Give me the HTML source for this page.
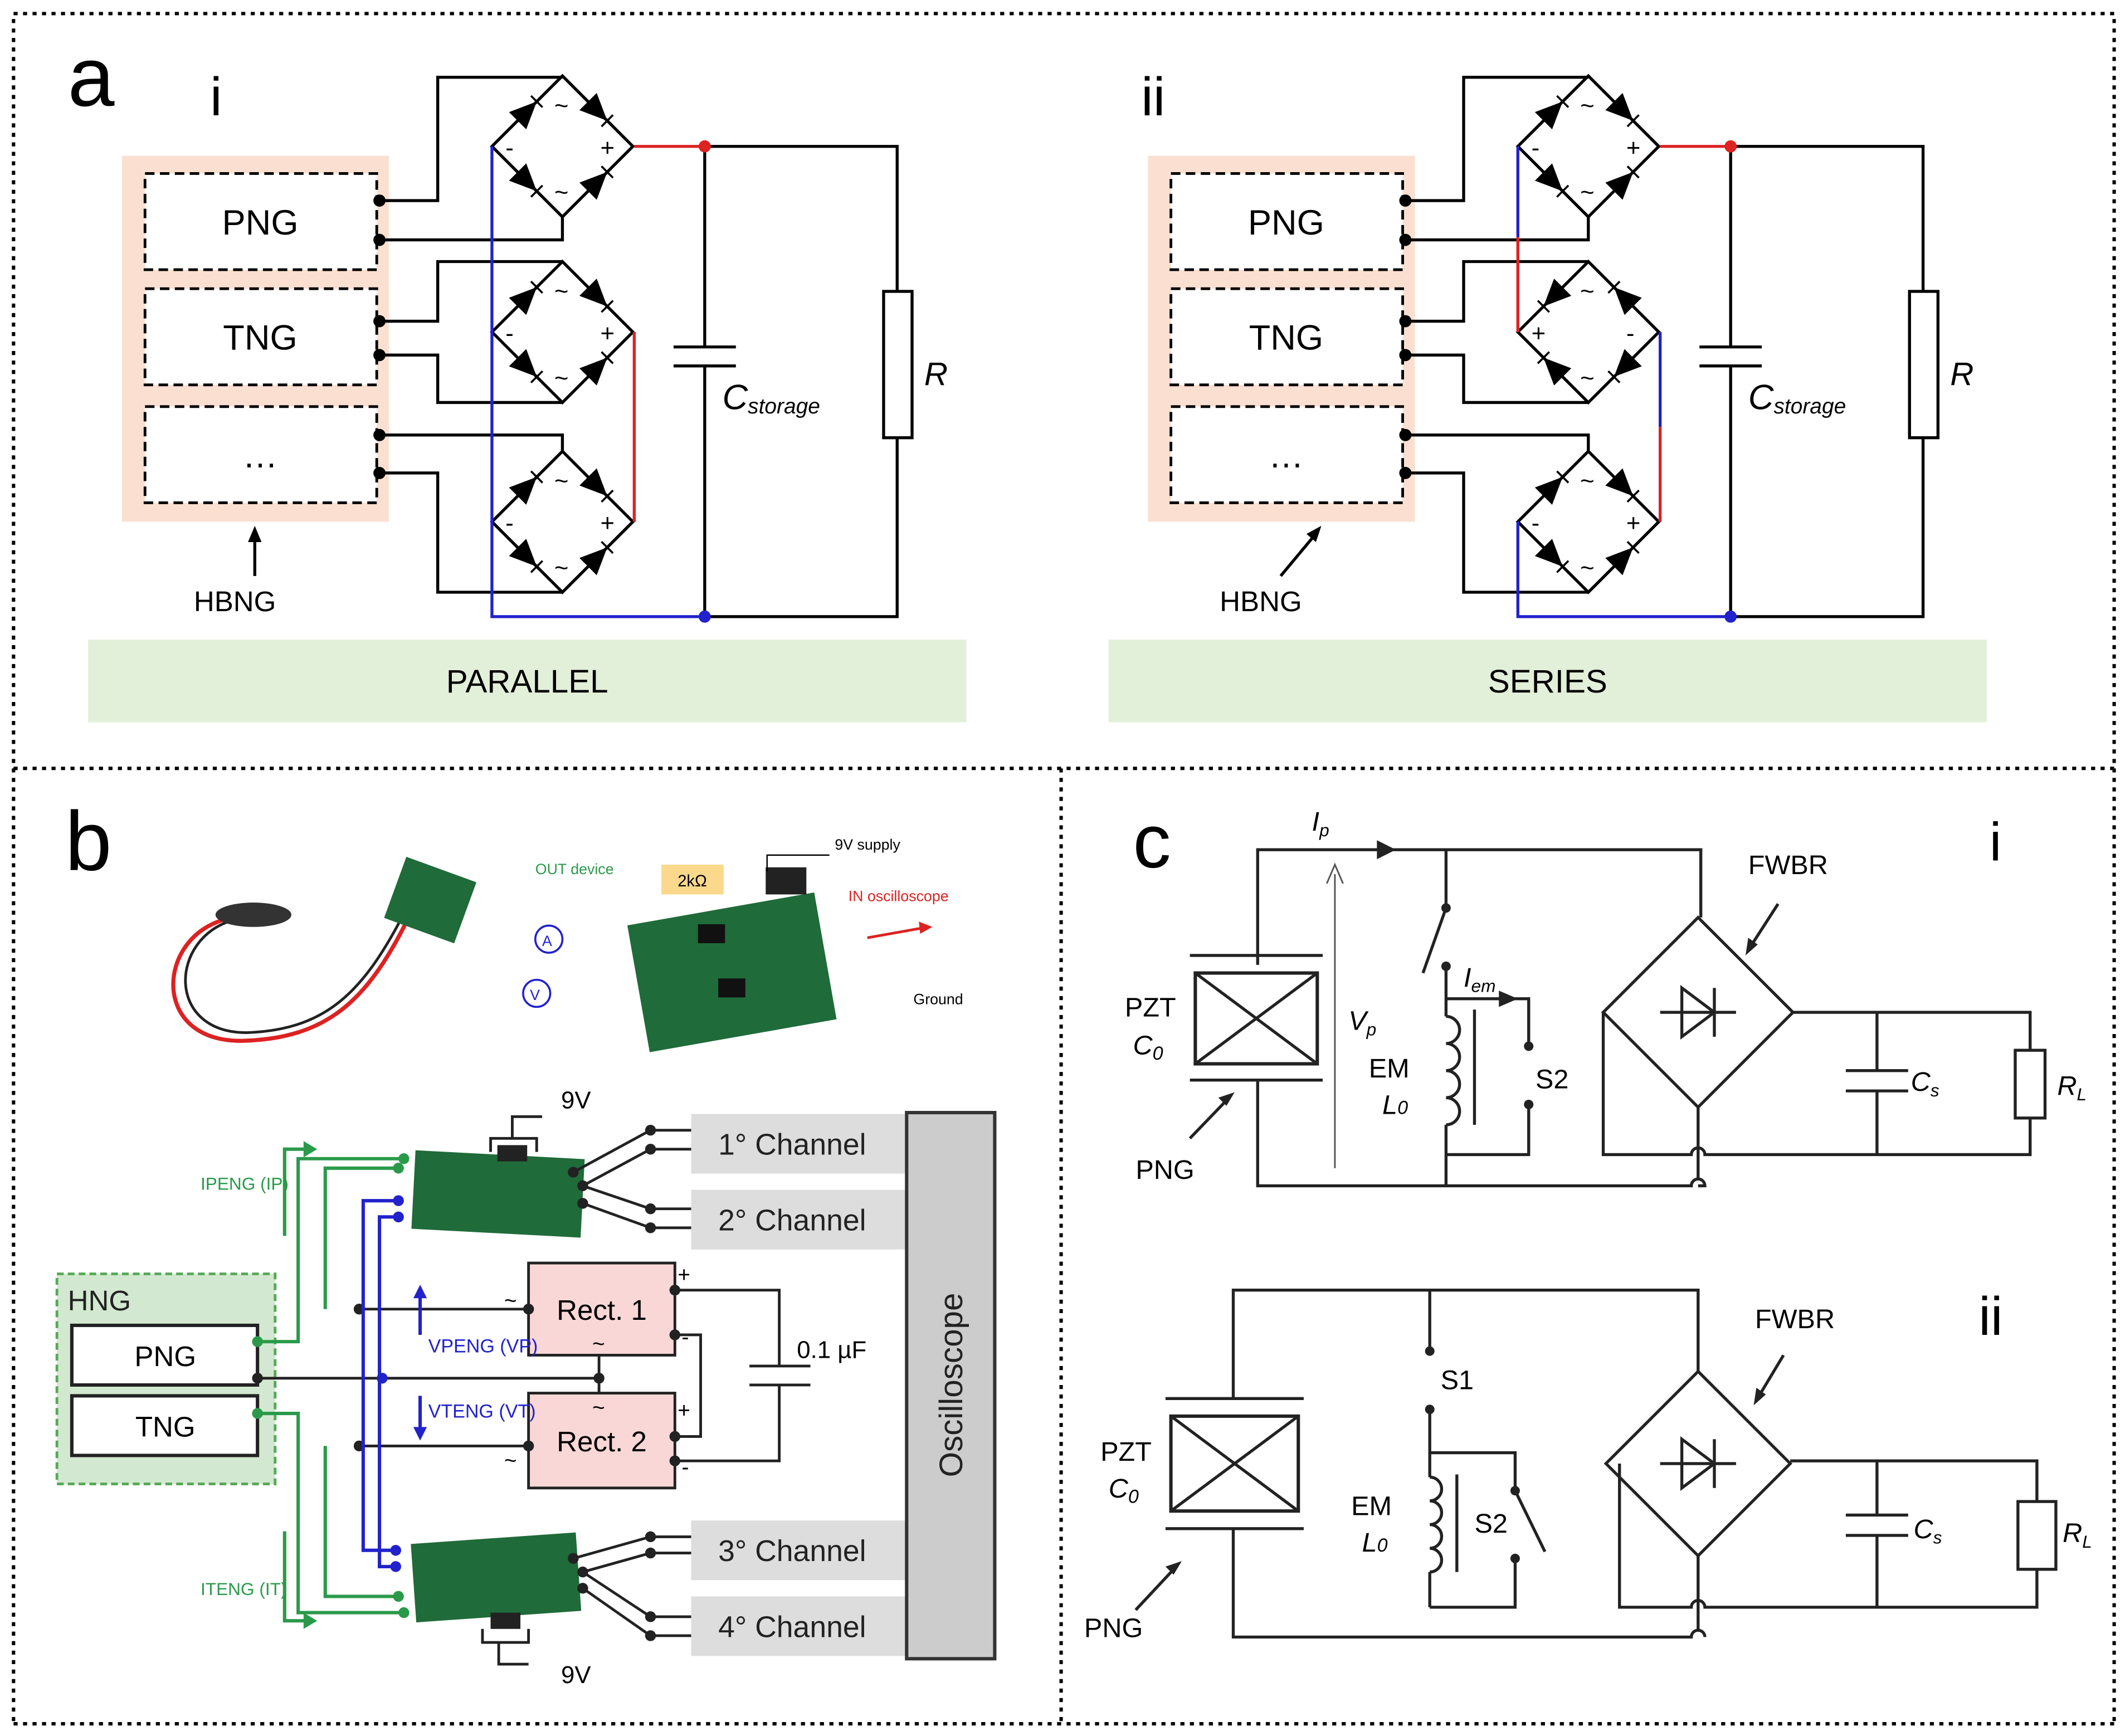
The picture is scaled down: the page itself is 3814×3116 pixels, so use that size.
<!DOCTYPE html>
<html><head><meta charset="utf-8"><style>
html,body{margin:0;padding:0;background:#fff}
svg{display:block}
text{font-family:"Liberation Sans",sans-serif}
</style></head><body>
<svg id="s" width="3814" height="3116" viewBox="0 0 1568 1281" xmlns="http://www.w3.org/2000/svg">
<g fill="none" stroke="#000" stroke-width="2.5" stroke-dasharray="3,4">
<rect x="10" y="10" width="1550" height="557"/>
<line x1="10" y1="567" x2="10" y2="1272"/><line x1="10" y1="1272" x2="1560" y2="1272"/>
<line x1="1560" y1="567" x2="1560" y2="1272"/><line x1="783" y1="567" x2="783" y2="1272"/>
</g>
<g id="a"></g>
<text x="50" y="78" font-size="62">a</text>
<text x="155" y="85" font-size="40">i</text>
<text x="842" y="85" font-size="40">ii</text>
<rect x="65" y="472" width="648" height="61" fill="#e2efd9"/>
<text x="389" y="511" font-size="24" text-anchor="middle">PARALLEL</text>
<rect x="818" y="472" width="648" height="61" fill="#e2efd9"/>
<text x="1142" y="511" font-size="24" text-anchor="middle">SERIES</text>

<text x="48" y="642" font-size="62">b</text>
<path d="M168,678 C115,690 110,770 180,768 C240,766 270,740 300,680" fill="none" stroke="#d22" stroke-width="3"/>
<path d="M172,679 C125,692 122,762 182,762 C238,760 266,735 296,678" fill="none" stroke="#222" stroke-width="2"/>
<ellipse cx="187" cy="675" rx="28" ry="9" fill="#333"/>
<rect x="290" y="640" width="55" height="48" fill="#1f6b3a" transform="rotate(20 317 664)"/>
<rect x="470" y="670" width="140" height="95" fill="#1f6b3a" transform="rotate(-10 540 717)"/>
<rect x="515" y="682" width="20" height="14" fill="#111"/><rect x="530" y="722" width="20" height="14" fill="#111"/>
<rect x="565" y="640" width="30" height="20" fill="#222"/>
<text x="395" y="645" font-size="11" fill="#2a9a4a">OUT device</text>
<rect x="488" y="638" width="46" height="22" fill="#fbd98c"/><text x="500" y="654" font-size="12">2kΩ</text>
<text x="616" y="627" font-size="11">9V supply</text>
<path d="M566,643 v-12 h46" fill="none" stroke="#000"/>
<text x="626" y="665" font-size="11" fill="#d22">IN oscilloscope</text>
<path d="M640,692 L685,684" stroke="#d22" stroke-width="2"/><path d="M688,684 l-10,-4 l1,9z" fill="#d22"/>
<text x="674" y="741" font-size="11">Ground</text>
<circle cx="405" cy="693" r="10" fill="none" stroke="#22c" stroke-width="1.5"/><text x="400" y="698" font-size="11" fill="#22c">A</text>
<circle cx="396" cy="733" r="10" fill="none" stroke="#22c" stroke-width="1.5"/><text x="391" y="738" font-size="11" fill="#22c">V</text>

<g fill="#ddd"><rect x="510" y="822" width="158" height="44"/><rect x="510" y="878" width="158" height="44"/><rect x="510" y="1122" width="158" height="44"/><rect x="510" y="1178" width="158" height="44"/></g>
<g font-size="22" fill="#222"><text x="530" y="852">1° Channel</text><text x="530" y="908">2° Channel</text><text x="530" y="1152">3° Channel</text><text x="530" y="1208">4° Channel</text></g>
<rect x="669" y="821" width="65" height="403" fill="#ccc" stroke="#333" stroke-width="2.5"/>
<text transform="translate(710,1022) rotate(-90)" font-size="24" text-anchor="middle" fill="#222">Oscilloscope</text>
<rect x="42" y="940" width="161" height="155" fill="#d3e8d0" stroke="#5a5" stroke-width="2" stroke-dasharray="5,3"/>
<text x="50" y="967" font-size="21" fill="#222">HNG</text>
<rect x="53" y="978" width="137" height="44" fill="#fff" stroke="#222" stroke-width="2.5"/><text x="122" y="1008" font-size="21" text-anchor="middle">PNG</text>
<rect x="53" y="1030" width="137" height="44" fill="#fff" stroke="#222" stroke-width="2.5"/><text x="122" y="1060" font-size="21" text-anchor="middle">TNG</text>
<rect x="390" y="932" width="108" height="68" fill="#f8d7d6" stroke="#222" stroke-width="2"/><text x="444" y="974" font-size="21" text-anchor="middle">Rect. 1</text>
<rect x="390" y="1028" width="108" height="70" fill="#f8d7d6" stroke="#222" stroke-width="2"/><text x="444" y="1071" font-size="21" text-anchor="middle">Rect. 2</text>
<rect x="305" y="852" width="125" height="58" fill="#1f6b3a" transform="rotate(3 367 881)"/>
<rect x="305" y="1135" width="122" height="58" fill="#1f6b3a" transform="rotate(-4 366 1164)"/>
<rect x="367" y="845" width="22" height="12" fill="#222"/><rect x="362" y="1190" width="22" height="12" fill="#222"/>
<g fill="none" stroke="#222" stroke-width="2">
<path d="M362,850 v-10 h34 v10 M378,840 v-16 h22"/><path d="M356,1202 v10 h34 v-10 M368,1212 v16 h22"/>
<path d="M190,1017 H442 V1000 M442,1017 V1028"/>
<path d="M265,966 H390 M265,1067 H390"/>
<path d="M498,952 H575 V1008 M553,1008 H598 M553,1022 H598 M575,1022 V1078 H498"/>
<path d="M498,985 H517 V1060 H498"/>
<path d="M423,865 L480,834 H510 M430,875 L480,848 H510 M430,875 L480,892 H510 M430,888 L480,906 H510"/>
<path d="M423,1150 L480,1134 H510 M430,1160 L480,1146 H510 M430,1160 L480,1193 H510 M430,1172 L480,1207 H510"/>
</g>
<g fill="#222"><circle cx="423" cy="865" r="4"/><circle cx="430" cy="875" r="4"/><circle cx="430" cy="888" r="4"/><circle cx="480" cy="834" r="4"/><circle cx="480" cy="848" r="4"/><circle cx="480" cy="892" r="4"/><circle cx="480" cy="906" r="4"/>
<circle cx="423" cy="1150" r="4"/><circle cx="430" cy="1160" r="4"/><circle cx="430" cy="1172" r="4"/><circle cx="480" cy="1134" r="4"/><circle cx="480" cy="1146" r="4"/><circle cx="480" cy="1193" r="4"/><circle cx="480" cy="1207" r="4"/>
<circle cx="190" cy="1017" r="4"/><circle cx="442" cy="1017" r="4"/><circle cx="265" cy="966" r="4"/><circle cx="265" cy="1067" r="4"/><circle cx="390" cy="966" r="4"/><circle cx="390" cy="1067" r="4"/>
<circle cx="498" cy="952" r="4"/><circle cx="498" cy="985" r="4"/><circle cx="498" cy="1060" r="4"/><circle cx="498" cy="1078" r="4"/></g>
<g fill="none" stroke="#2a9a4a" stroke-width="2.5">
<path d="M190,990 H220 V855 H298 M240,966 V862 H294 M190,1043 H220 V1190 H298 M240,1067 V1178 H294"/>
<path d="M210,912 V848 H228 M210,1130 V1196 H228"/></g>
<g fill="#2a9a4a"><circle cx="190" cy="990" r="4"/><circle cx="190" cy="1043" r="4"/><circle cx="298" cy="855" r="4"/><circle cx="294" cy="862" r="4"/><circle cx="298" cy="1190" r="4"/><circle cx="294" cy="1178" r="4"/>
<path d="M234,848 l-10,-6 v12z M234,1196 l-10,-6 v12z"/></g>
<text x="148" y="878" font-size="13" fill="#2a9a4a">IPENG (IP)</text>
<text x="148" y="1177" font-size="13" fill="#2a9a4a">ITENG (IT)</text>
<g fill="none" stroke="#22c" stroke-width="2.5">
<path d="M294,886 H268 V1017 V1144 H292 M294,898 H280 V1017 V1156 H292"/></g>
<g fill="#22c"><circle cx="294" cy="886" r="4"/><circle cx="294" cy="898" r="4"/><circle cx="292" cy="1144" r="4"/><circle cx="292" cy="1156" r="4"/><circle cx="282" cy="1017" r="4"/>
<path d="M310,948 l-5,10 h10z M310,1063 l-5,-10 h10z"/></g>
<path d="M310,955 V985 M310,1030 V1058" stroke="#22c" stroke-width="2.5"/>
<text x="316" y="998" font-size="14" fill="#22c">VPENG (VP)</text>
<text x="316" y="1046" font-size="14" fill="#22c">VTENG (VT)</text>
<g font-size="16"><text x="372" y="965">~</text><text x="437" y="997">~</text><text x="437" y="1044">~</text><text x="372" y="1083">~</text><text x="500" y="946">+</text><text x="503" y="992">-</text><text x="500" y="1046">+</text><text x="503" y="1088">-</text></g>
<text x="588" y="1002" font-size="18">0.1 µF</text>
<text x="414" y="818" font-size="18">9V</text><text x="414" y="1242" font-size="18">9V</text>

<text x="836" y="640" font-size="56">c</text>
<text x="1468" y="635" font-size="40">i</text>
<text x="1460" y="985" font-size="40">ii</text>
<g id="c"></g>
<g font-size="20">
<text x="830" y="750">PZT</text><text x="836" y="778" font-style="italic">C<tspan font-size="14" dy="4">0</tspan></text>
<text x="1010" y="795">EM</text><text x="1020" y="822" font-style="italic">L<tspan font-size="14" dy="0">0</tspan></text>
<text x="1133" y="803">S2</text><text x="838" y="870">PNG</text><text x="1290" y="645">FWBR</text>
<text x="995" y="760" font-style="italic">V<tspan font-size="13" dy="4">p</tspan></text>
<text x="968" y="613" font-style="italic">I<tspan font-size="13" dy="4">p</tspan></text>
<text x="1080" y="728" font-style="italic">I<tspan font-size="13" dy="4">em</tspan></text>
<text x="1410" y="805" font-style="italic">C<tspan font-size="13" dy="4">s</tspan></text>
<text x="1518" y="808" font-style="italic">R<tspan font-size="13" dy="4">L</tspan></text>
<text x="812" y="1078">PZT</text><text x="818" y="1105" font-style="italic">C<tspan font-size="14" dy="4">0</tspan></text>
<text x="997" y="1118">EM</text><text x="1005" y="1145" font-style="italic">L<tspan font-size="14">0</tspan></text>
<text x="1063" y="1025">S1</text><text x="1088" y="1131">S2</text><text x="800" y="1208">PNG</text><text x="1295" y="980">FWBR</text>
<text x="1412" y="1135" font-style="italic">C<tspan font-size="13" dy="4">s</tspan></text>
<text x="1522" y="1138" font-style="italic">R<tspan font-size="13" dy="4">L</tspan></text>
</g>
</svg>
<script>
var NS="http://www.w3.org/2000/svg";
function el(p,t,a,txt){var e=document.createElementNS(NS,t);for(var k in a)e.setAttribute(k,a[k]);if(txt)e.textContent=txt;p.appendChild(e);return e;}
var A=document.getElementById('a'),C=document.getElementById('c');
function P(p,d,c,w){el(p,'path',{d:d,fill:'none',stroke:c||'#000','stroke-width':w||2.2});}
function dot(p,x,y,c){el(p,'circle',{cx:x,cy:y,r:4.5,fill:c||'#000'});}
function tri(p,x1,y1,x2,y2){var mx=(x1+x2)/2,my=(y1+y2)/2,dx=x2-x1,dy=y2-y1,L=Math.hypot(dx,dy);dx/=L;dy/=L;var s=10,nx=-dy,ny=dx;
 var tx=mx+dx*s,ty=my+dy*s,bx=mx-dx*s,by=my-dy*s;
 el(p,'path',{d:'M'+tx+','+ty+'L'+(bx+nx*s*0.9)+','+(by+ny*s*0.9)+'L'+(bx-nx*s*0.9)+','+(by-ny*s*0.9)+'Z',fill:'#000'});
 P(p,'M'+(tx+nx*6)+','+(ty+ny*6)+'L'+(tx-nx*6)+','+(ty-ny*6),'#000',1.5);}
function bridge(cx,cy,h,ls,rs){var T=[cx,cy-h],B=[cx,cy+h],L=[cx-h,cy],R=[cx+h,cy];
 P(A,'M'+L+'L'+T+'L'+R+'L'+B+'Z');
 var neg=ls=='-'?L:R,pos=ls=='-'?R:L;
 tri(A,neg[0],neg[1],T[0],T[1]);tri(A,neg[0],neg[1],B[0],B[1]);tri(A,T[0],T[1],pos[0],pos[1]);tri(A,B[0],B[1],pos[0],pos[1]);
 el(A,'text',{x:cx-6,y:cy-h+28,'font-size':18},'~');el(A,'text',{x:cx-6,y:cy+h-12,'font-size':18},'~');
 el(A,'text',{x:cx-h+10,y:cy+7,'font-size':18},ls);el(A,'text',{x:cx+h-24,y:cy+7,'font-size':18},rs);}
function panelA(o,series){
 el(A,'rect',{x:90+o,y:115,width:197,height:270,fill:'#fbe0d2'});
 [[128,'PNG'],[213,'TNG'],[300,'…']].forEach(function(b){el(A,'rect',{x:107+o,y:b[0],width:171,height:71,fill:'#fff',stroke:'#000','stroke-width':2,'stroke-dasharray':'7,4'});
  el(A,'text',{x:192+o,y:b[0]+45,'font-size':26,'text-anchor':'middle'},b[1]);});
 var bx=415+o,h=52;
 P(A,'M'+(280+o)+',148H'+(323+o)+'V57H'+bx);P(A,'M'+(280+o)+',177H'+bx+'V160');
 P(A,'M'+(280+o)+',237H'+(323+o)+'V193H'+bx);P(A,'M'+(280+o)+',262H'+(323+o)+'V297H'+bx);
 P(A,'M'+(280+o)+',321H'+bx+'V333');P(A,'M'+(280+o)+',349H'+(323+o)+'V437H'+bx);
 [148,177,237,262,321,349].forEach(function(y){dot(A,280+o,y);});
 var Lx=363+o,Rx=468+o,cx=520+o,rx=662+o;
 if(!series){bridge(bx,108,h,'-','+');bridge(bx,245,h,'-','+');bridge(bx,385,h,'-','+');
  P(A,'M'+Lx+',108V455H'+cx,'#22c');P(A,'M'+Rx+',245V385','#d22');}
 else{bridge(bx,108,h,'-','+');bridge(bx,245,h,'+','-');bridge(bx,385,h,'-','+');
  P(A,'M'+Lx+',108V175','#22c');P(A,'M'+Lx+',175V245','#d22');P(A,'M'+Rx+',245V315','#22c');P(A,'M'+Rx+',315V385','#d22');P(A,'M'+Lx+',385V455H'+cx,'#22c');}
 P(A,'M'+Rx+',108H'+cx,'#d22');
 P(A,'M'+cx+',108H'+rx+'V215M'+rx+',323V455H'+cx);
 el(A,'rect',{x:rx-10,y:215,width:21,height:108,fill:'#fff',stroke:'#000','stroke-width':2.2});
 P(A,'M'+cx+',108V256M'+(cx-23)+',256H'+(cx+23)+'M'+(cx-23)+',270H'+(cx+23)+'M'+cx+',270V455');
 dot(A,cx,108,'#d22');dot(A,cx,455,'#22c');
 var t=el(A,'text',{x:cx+13,y:302,'font-size':26,'font-style':'italic'},'C');el(t,'tspan',{'font-size':16,dy:3},'storage');
 el(A,'text',{x:rx+20,y:284,'font-size':24,'font-style':'italic'},'R');
 el(A,'text',{x:143+o,y:451,'font-size':21},'HBNG');
 if(!series){P(A,'M'+(188+o)+',425V395');el(A,'path',{d:'M'+(188+o)+',388l-5,12h10z',fill:'#000'});}
 else{P(A,'M945,425L970,395');el(A,'path',{d:'M975,388l-11,6l7,6z',fill:'#000'});}
}
panelA(0,false);panelA(757,true);

function Q(d){P(C,d,'#222',2.2);}
function cdot(x,y){el(C,'circle',{cx:x,cy:y,r:3.5,fill:'#222'});}
function fwbr(cx,cy,h){Q('M'+(cx-h)+','+cy+'L'+cx+','+(cy-h)+'L'+(cx+h)+','+cy+'L'+cx+','+(cy+h)+'Z');
 Q('M'+(cx-28)+','+cy+'H'+(cx+28));el(C,'path',{d:'M'+(cx-12)+','+(cy-18)+'L'+(cx+12)+','+cy+'L'+(cx-12)+','+(cy+18)+'Z',fill:'none',stroke:'#222','stroke-width':2.2});Q('M'+(cx+12)+','+(cy-18)+'V'+(cy+18));}
function pzt(x1,y1,x2,y2,py1,py2){el(C,'rect',{x:x1,y:y1,width:x2-x1,height:y2-y1,fill:'none',stroke:'#222','stroke-width':2.5});
 Q('M'+x1+','+y1+'L'+x2+','+y2+'M'+x2+','+y1+'L'+x1+','+y2);Q('M'+(x1-4)+','+py1+'H'+(x2+4)+'M'+(x1-4)+','+py2+'H'+(x2+4));}
function coil(x,y1,y2){var n=4,s=(y2-y1)/n,d='M'+x+','+y1;for(var i=0;i<n;i++)d+='a'+(s/2)+','+(s/2)+' 0 0 1 0,'+s;Q(d);}
// c i
Q('M928,712V627H1255V677');pzt(882,718,972,785,705,797);Q('M928,797V875H1248a5,5 0 0 1 10,0H1253');Q('M1253,817V870');
fwbr(1253,747,70);Q('M1183,747V852H1248a5,5 0 0 1 10,0H1498V825M1498,775V747H1323');
el(C,'rect',{x:1487,y:775,width:22,height:50,fill:'#fff',stroke:'#222','stroke-width':2.2});
Q('M1385,747V790M1362,790H1408M1362,805H1408M1385,805V852');
Q('M1067,627V670M1067,670L1050,718M1067,713V750M1067,830V875');cdot(1067,670);cdot(1067,713);
coil(1067,750,830);Q('M1088,745V830M1067,737H1128V772M1128,815V852H1067');cdot(1128,772);cdot(1128,815);
el(C,'path',{d:'M1120,737l-14,-6v12z',fill:'#222'});el(C,'path',{d:'M1030,627l-14,-7v14z',fill:'#222'});
P(C,'M985,862V645','#555',1.2);P(C,'M979,652L985,638L991,652','#555',1.2);
Q('M878,840L905,812');el(C,'path',{d:'M911,806l-12,4l6,6z',fill:'#222'});
Q('M1312,667L1292,698');el(C,'path',{d:'M1288,705l2,-13l7,5z',fill:'#222'});
// c ii
Q('M910,1032V952H1253V1012');pzt(864,1045,958,1115,1032,1128);Q('M910,1128V1208H1248a5,5 0 0 1 10,0');Q('M1253,1148V1203');
fwbr(1253,1080,68);Q('M1195,1080V1186H1248a5,5 0 0 1 10,0H1503V1158M1503,1108V1078H1321');
el(C,'rect',{x:1489,y:1108,width:28,height:50,fill:'#fff',stroke:'#222','stroke-width':2.2});
Q('M1385,1078V1118M1362,1118H1408M1362,1133H1408M1385,1133V1186');
Q('M1055,952V997M1055,1040V1090M1055,1160V1186');cdot(1055,997);cdot(1055,1040);
coil(1055,1090,1160);Q('M1075,1088V1160M1055,1072H1118V1100M1118,1100L1140,1145M1118,1150V1186H1055');cdot(1118,1100);cdot(1118,1150);
Q('M838,1188L866,1158');el(C,'path',{d:'M872,1152l-12,4l6,6z',fill:'#222'});
Q('M1316,1000L1298,1030');el(C,'path',{d:'M1294,1037l2,-13l7,5z',fill:'#222'});
</script>
</body></html>
